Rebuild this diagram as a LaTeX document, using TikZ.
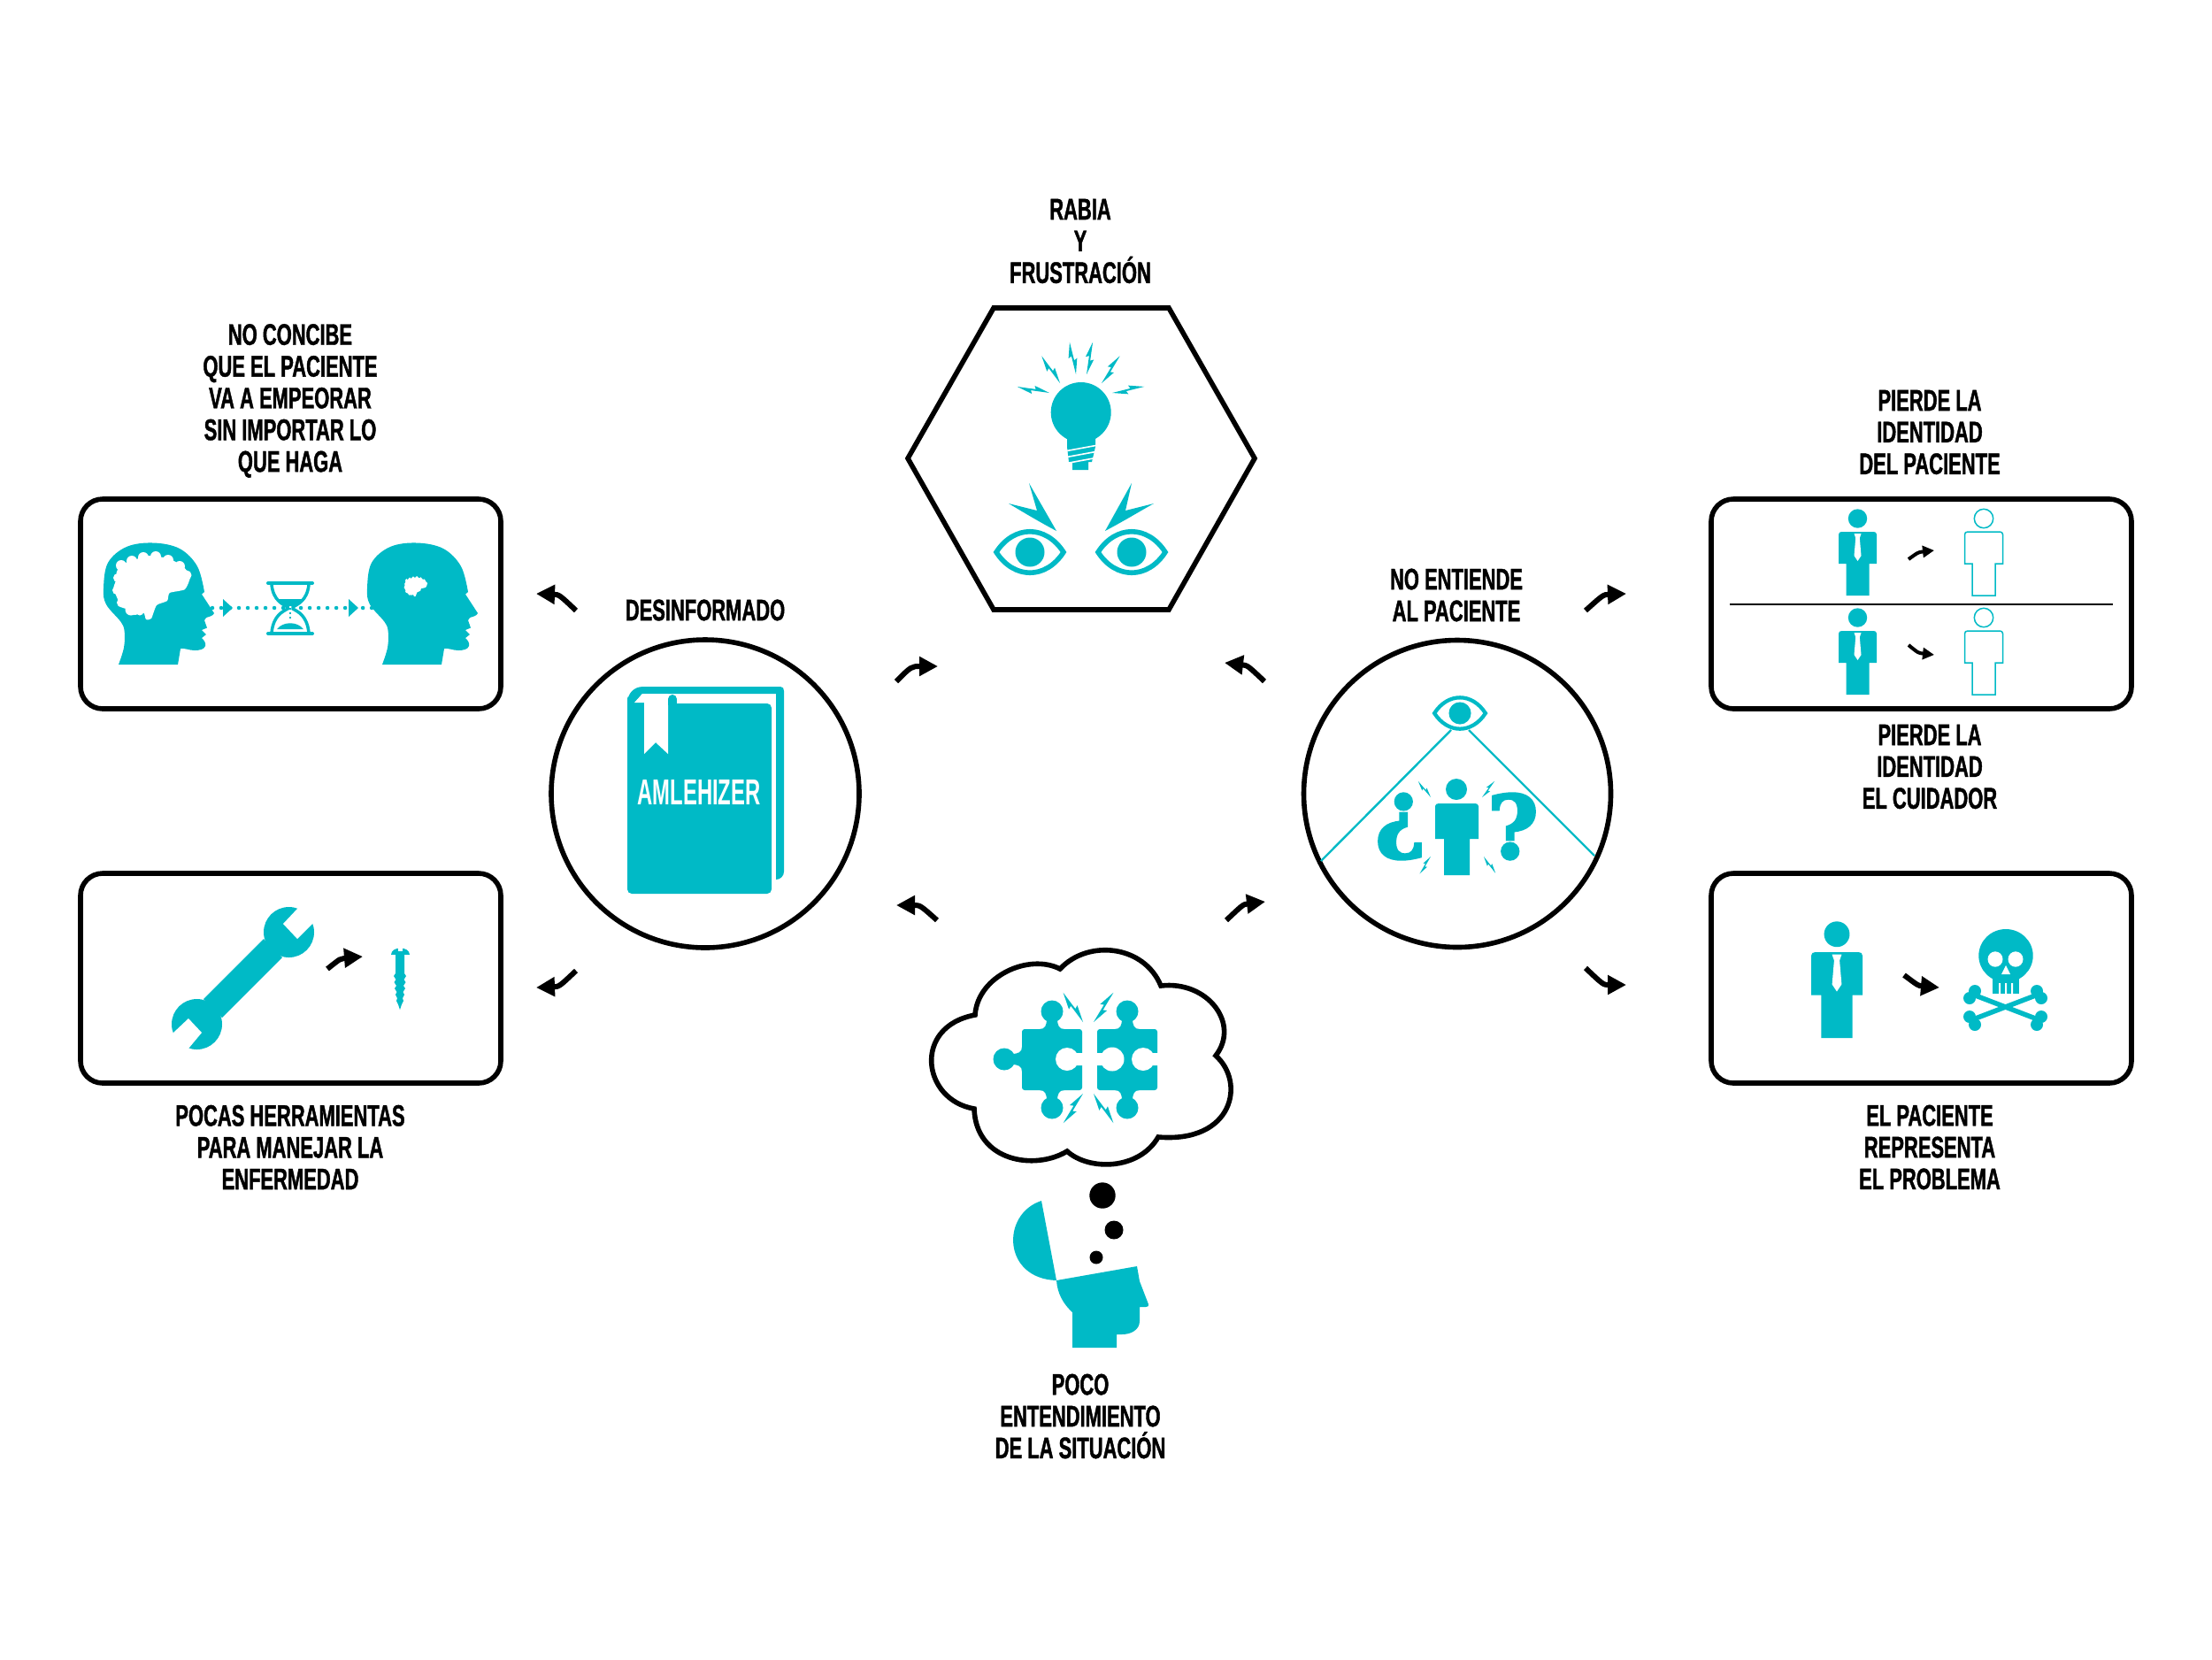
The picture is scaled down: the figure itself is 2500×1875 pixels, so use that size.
\documentclass[tikz,border=0pt]{standalone}
\usepackage{fontspec}
\usetikzlibrary{arrows.meta}
\newfontfamily\labf[FakeStretch=0.65,FakeBold=1.2]{Liberation Sans}
\newfontfamily\bkf[FakeStretch=0.585]{Liberation Sans}
\newfontfamily\qmf[FakeBold=3]{DejaVu Serif}
\definecolor{ic}{HTML}{00BAC6}
\tikzset{
  x=0.01cm,y=-0.01cm,
  labeltxt/.style={font=\labf\bfseries\fontsize{9.6}{10.2}\selectfont,align=center,text=black,inner sep=0pt},
  frame/.style={draw=black,line width=0.056cm,fill=white},
  boxframe/.style={frame,rounded corners=0.25cm},
  turnarrow/.style={black,line width=0.06cm,-{Triangle[length=0.21cm,width=0.21cm]}},
  turnsmall/.style={black,line width=0.04cm,-{Triangle[length=0.13cm,width=0.13cm]}},
  qmark/.style={font=\qmf\bfseries\fontsize{28}{30}\selectfont,text=ic,inner sep=0pt}
}
\newcommand\lbolt[3]{\fill[ic,shift={(#1)},rotate=#2,scale=#3] (0,0) -- (0.48,0.13) -- (0.43,0.03) -- (1,0) -- (0.52,-0.13) -- (0.57,-0.03) -- cycle;}
\newcommand\eyeico[3]{\begin{scope}[shift={(#1,#2)},scale=#3]
  \draw[ic,line width=#3*0.056cm] (-38,0) .. controls (-18,-31) and (18,-31) .. (38,0) .. controls (18,31) and (-18,31) .. (-38,0) -- cycle;
  \fill[ic] (0,0) circle (16.5);
\end{scope}}
\newcommand\personbody{(0,-15) circle (10.7) (-21.5,36) -- (-21.5,3) .. controls (-21.5,1) and (-20,0) .. (-18,0) -- (18,0) .. controls (20,0) and (21.5,1) .. (21.5,3) -- (21.5,36) -- (13,36) -- (13,72) -- (-13,72) -- (-13,36) -- cycle}
\newcommand\personfull[3]{\begin{scope}[shift={(#1,#2)},scale=#3]
  \fill[ic] \personbody;
  \fill[white] (-4,2) -- (4,2) -- (2.3,7) -- (4,27) -- (0,33) -- (-4,27) -- (-2.3,7) -- cycle;
\end{scope}}
\newcommand\personline[3]{\begin{scope}[shift={(#1,#2)},scale=#3]
  \draw[ic,line width=0.015cm] \personbody;
\end{scope}}
\newcommand\headshape{(0,0) -- plot[smooth,tension=.6] coordinates {(0,0) (6,-19) (6.7,-37) (2.7,-48) (-14,-68) (-17,-86) (-12,-115) (9,-133) (39,-137.5) (69,-131) (89,-111) (97,-82)} -- (94,-79.5) -- (108,-58) .. controls (107,-55) and (102,-54) .. (99,-53) -- (97,-50) -- (100,-41.5) -- (94,-39) -- (99,-34) -- (94,-30) .. controls (97,-27) and (99,-24) .. (98,-21) .. controls (97,-17) and (91,-16) .. (86,-16) .. controls (80,-16) and (74,-19) .. (70,-18) -- (67,0) -- cycle}
\newcommand\brainshape{plot[smooth cycle,tension=.35] coordinates {(-2.3,-104) (2.7,-113) (17.7,-118) (32.7,-123) (56,-120) (72.7,-111) (81,-99.5) (75,-85) (57.7,-81) (55,-72) (43,-67) (37,-52) (31,-51) (28.3,-58.5) (17.7,-56) (11,-62) (0,-66) (-0.7,-73) (-5.7,-86) (-2.3,-97)}
 (3,-112) circle (6) (15,-117) circle (6) (28,-121) circle (6) (42,-122) circle (6) (56,-118) circle (6) (69,-111) circle (6) (77,-101) circle (5.5) (-1,-98) circle (5) (-2,-84) circle (5) (3,-70) circle (5) (14,-62) circle (6.5) (24,-60) circle (4.5)}
\newcommand\pknob[2]{\begin{scope}[shift={(#1)},rotate=#2]
  \fill[ic] (0,-20) circle (12.5);
  \fill[ic] (-6,-12) .. controls (-6,-4) and (-8,0) .. (-14,0) -- (14,0) .. controls (8,0) and (6,-4) .. (6,-12) -- cycle;
\end{scope}}
\begin{document}
\begin{tikzpicture}
\useasboundingbox (0,0) rectangle (2500,1875);
\fill[white] (0,0) rectangle (2500,1875);
% frames
\draw[boxframe] (91,564) rectangle (566,801);
\draw[boxframe] (91,987) rectangle (566,1224);
\draw[boxframe] (1934,564) rectangle (2409,801);
\draw[boxframe] (1934,987) rectangle (2409,1224);
\draw[frame] (797,897) circle (174);
\draw[frame] (1647,897) circle (173.5);
\draw[frame,line join=miter] (1123,348) -- (1321,348) -- (1418,518) -- (1321,689) -- (1123,689) -- (1026,518) -- cycle;
\draw[frame,line join=miter] (1102,1147) .. controls (1105,1103) and (1163,1077) .. (1198,1095) .. controls (1230,1061) and (1293,1068) .. (1312,1114) .. controls (1365,1108) and (1402,1157) .. (1374,1193) .. controls (1408,1223) and (1394,1292) .. (1309,1285) .. controls (1287,1323) and (1230,1323) .. (1206,1301) .. controls (1170,1323) and (1103,1313) .. (1101,1253) .. controls (1042,1243) and (1031,1160) .. (1102,1147) -- cycle;
% labels
\node[labeltxt] (t1) at (328,453) {NO CONCIBE\\QUE EL PACIENTE\\VA A EMPEORAR\\SIN IMPORTAR LO\\QUE HAGA};
\node[labeltxt] (t2) at (328,1296.5) {POCAS HERRAMIENTAS\\PARA MANEJAR LA\\ENFERMEDAD};
\node[labeltxt] (t3) at (797,689.5) {DESINFORMADO};
\node[labeltxt] (t4) at (1221,272.5) {RABIA\\Y\\FRUSTRACIÓN};
\node[labeltxt] (t5) at (1646,672.5) {NO ENTIENDE\\AL PACIENTE};
\node[labeltxt] (t6) at (2181,488.5) {PIERDE LA\\IDENTIDAD\\DEL PACIENTE};
\node[labeltxt] (t7) at (2181,866.5) {PIERDE LA\\IDENTIDAD\\EL CUIDADOR};
\node[labeltxt] (t8) at (2181,1296.5) {EL PACIENTE\\REPRESENTA\\EL PROBLEMA};
\node[labeltxt] (t9) at (1221,1600.5) {POCO\\ENTENDIMIENTO\\DE LA SITUACIÓN};
% turning arrows
\coordinate (a1s) at (651,690); \coordinate (a1c) at (632,672); \coordinate (a1e) at (606,671);
\coordinate (a2s) at (651,1097); \coordinate (a2c) at (632,1115); \coordinate (a2e) at (606,1116);
\coordinate (a3s) at (1013,770); \coordinate (a3c) at (1030,753); \coordinate (a3e) at (1060,753);
\coordinate (a4s) at (1059,1040); \coordinate (a4c) at (1040,1023); \coordinate (a4e) at (1013,1023);
\coordinate (a5s) at (1429,770); \coordinate (a5c) at (1410,752); \coordinate (a5e) at (1384,749);
\coordinate (a6s) at (1386,1040); \coordinate (a6c) at (1405,1022); \coordinate (a6e) at (1430,1019);
\coordinate (a7s) at (1792,690); \coordinate (a7c) at (1812,672); \coordinate (a7e) at (1838,671);
\coordinate (a8s) at (1792,1094); \coordinate (a8c) at (1812,1113); \coordinate (a8e) at (1838,1113);
\coordinate (a9s) at (370,1095); \coordinate (a9c) at (385,1083); \coordinate (a9e) at (410,1081);
\coordinate (a10s) at (2152,1102); \coordinate (a10c) at (2168,1114); \coordinate (a10e) at (2192,1116);
\coordinate (a11s) at (2157,632); \coordinate (a11c) at (2168,624); \coordinate (a11e) at (2186,622);
\coordinate (a12s) at (2157,729); \coordinate (a12c) at (2168,738); \coordinate (a12e) at (2186,740);
\foreach \n in {1,...,10} {\draw[turnarrow] (a\n s) .. controls (a\n c) .. (a\n e);}
\foreach \n in {11,12} {\draw[turnsmall] (a\n s) .. controls (a\n c) .. (a\n e);}
% heads
\begin{scope}[shift={(134,751)}]
  \fill[ic] \headshape; \fill[white] \brainshape;
\end{scope}
\begin{scope}[shift={(432,751)}]
  \fill[ic] \headshape;
  \begin{scope}[shift={(38,-88)},scale=0.3,shift={(-38,88)}] \fill[white] \brainshape; \end{scope}
\end{scope}
% dotted connector and hourglass
\coordinate (d1) at (240,687); \coordinate (d2) at (423,687); \coordinate (hg) at (328,687);
\draw[ic,line width=0.045cm,line cap=round,dash pattern=on 0pt off 0.1cm] (d1) -- (d2);
\fill[ic] (252,677) -- (263,687) -- (252,697) -- cycle;
\fill[ic] (394,677) -- (405,687) -- (394,697) -- cycle;
\begin{scope}[shift={(hg)}]
  \fill[white] (-19,-24) .. controls (-17,-8) and (-8,-4) .. (-3,0) .. controls (-8,4) and (-17,8) .. (-19,24) -- (19,24) .. controls (17,8) and (8,4) .. (3,0) .. controls (8,-4) and (17,-8) .. (19,-24) -- cycle;
  \draw[ic,line width=0.04cm,line cap=round] (-25,-28) -- (25,-28) (-25,29) -- (25,29);
  \draw[ic,line width=0.035cm] (-21,-26) .. controls (-19,-8) and (-8,-4) .. (-3,-1) -- (-3,1) .. controls (-8,4) and (-19,8) .. (-21,28);
  \draw[ic,line width=0.035cm] (21,-26) .. controls (19,-8) and (8,-4) .. (3,-1) -- (3,1) .. controls (8,4) and (19,8) .. (21,28);
  \fill[ic] (-15,-10) -- (15,-10) .. controls (10,-3) and (4,-2) .. (0,-2) .. controls (-4,-2) and (-10,-3) .. (-15,-10) -- cycle;
  \fill[ic] (-15,24) .. controls (-8,15) and (8,15) .. (15,24) -- cycle;
  \draw[ic,line width=0.02cm,dash pattern=on 0.02cm off 0.03cm] (0,0) -- (0,14);
\end{scope}
% wrench and screw
\fill[ic] (222.5,1157.5) circle (28.5);
\fill[ic] (326.5,1053.5) circle (28.5);
\fill[ic] (298,1061) -- (319,1082) -- (251,1150) -- (230,1129) -- cycle;
\fill[white] (320,1044) -- (336,1027) -- (356,1007) -- (373,1024) -- (353,1044) -- (336,1061) -- cycle;
\fill[white] (213,1151) -- (228,1167) -- (213,1185) -- (193,1205) -- (176,1187) -- (196,1167) -- cycle;
\fill[ic] (442,1079) .. controls (442,1069) and (463,1069) .. (463,1079) -- cycle;
\fill[white] (450,1068) rectangle (455,1075);
\fill[ic] (447,1079) -- (457,1079) -- (457,1100) -- (459,1103) -- (456.5,1107) -- (458.5,1110) -- (456,1114) -- (458,1117) -- (455.5,1121) -- (457,1124) -- (455,1128) -- (456,1131) -- (454,1135) -- (452,1141) -- (450,1135) -- (448,1131) -- (449,1128) -- (447,1124) -- (448.5,1121) -- (446,1117) -- (448,1114) -- (445.5,1110) -- (447.5,1107) -- (445,1103) -- (447,1100) -- cycle;
% book
\fill[ic] (709,795) .. controls (709,784) and (716,776) .. (727,776) -- (882,776) .. controls (885,776) and (886,778) .. (886,781) -- (886,985) .. controls (886,990) and (882,994) .. (877,994) -- (877,784) -- (726,784) -- (717,794) -- cycle;
\fill[ic,rounded corners=0.05cm] (709,792) -- (709,1010) -- (872,1010) -- (872,795) -- (760,795) -- (709,792) -- cycle;
\fill[white] (717,794) -- (726,784) -- (755,784) -- (755,852) -- (741,839) -- (728,852) -- (728,794) -- cycle;
\fill[ic] (760,790) circle (5); \fill[ic] (755,790) rectangle (765,797);
\node[font=\bkf\bfseries\fontsize{11.6}{12}\selectfont,text=white,inner sep=0pt] (bk) at (790,895) {AMLEHIZER};
% bulb and eyes
\fill[ic] (1221.7,466) circle (34);
\fill[ic] (1200,485) -- (1243,485) -- (1238,496) -- (1238,505) -- (1234,522) -- (1230,522) -- (1230,531) -- (1212,531) -- (1212,522) -- (1208,522) -- (1206,505) -- (1206,496) -- cycle;
\draw[white,line width=0.016cm] (1203,510) -- (1241,503) (1203,517) -- (1241,510) (1203,524) -- (1241,517);
\lbolt{1186,444}{169}{37} \lbolt{1198,433}{124}{37} \lbolt{1216,423}{101}{37}
\lbolt{1228,423}{79}{37} \lbolt{1245,433}{56}{37} \lbolt{1257,444}{11}{37}
\eyeico{1164}{624}{1} \eyeico{1279}{624}{1}
\fill[ic] (1163,546) -- (1194,600) .. controls (1175,590) and (1155,578) .. (1140,569) -- (1172,577) -- cycle;
\fill[ic] (1279,546) -- (1249,600) .. controls (1268,590) and (1288,578) .. (1304,569) -- (1272,577) -- cycle;
% puzzle
\fill[ic,rounded corners=0.03cm] (1155,1163) rectangle (1223,1232);
\fill[ic,rounded corners=0.03cm] (1240,1163) rectangle (1308,1232);
\pknob{1189,1163}{0} \pknob{1189,1232}{180} \pknob{1155,1197}{90} \pknob{1274,1163}{0} \pknob{1274,1232}{180}
\fill[white] (1206,1197) circle (13) (1257,1197) circle (13.5) (1292,1197) circle (13);
\fill[white] (1210,1190) rectangle (1225,1204) (1238,1190) rectangle (1252,1204) (1296,1190) rectangle (1310,1204);
\lbolt{1224,1155}{124}{40} \lbolt{1236,1155}{56}{40} \lbolt{1224,1236}{-124}{40} \lbolt{1236,1236}{-56}{40}
% thought bubbles and open head
\fill[black] (1246,1351) circle (14.7) (1259,1390) circle (10.5) (1239,1421) circle (7.5);
\fill[ic] (1177,1357) .. controls (1131,1372) and (1133,1445) .. (1194,1447) -- cycle;
\fill[ic] (1194,1447) -- (1285,1431) -- (1288,1448) -- (1298,1474) .. controls (1299,1476) and (1297,1477) .. (1295,1477) -- (1288,1477) -- (1288,1493) .. controls (1288,1503) and (1278,1508) .. (1268,1508) -- (1262,1508) -- (1262,1523) -- (1212,1523) -- (1212,1483) .. controls (1202,1474) and (1195,1462) .. (1194,1447) -- cycle;
% right circle
\eyeico{1650}{806}{0.76}
\draw[ic,line width=0.024cm] (1640,825) -- (1493,973) (1660,825) -- (1802,967);
\fill[ic] (1646,892) circle (12);
\fill[ic] (1622,948) -- (1622,911) .. controls (1622,909) and (1624,908) .. (1626,908) -- (1667,908) .. controls (1669,908) and (1671,909) .. (1671,911) -- (1671,948) -- (1661,948) -- (1661,989) -- (1632,989) -- (1632,948) -- cycle;
\lbolt{1617,901}{128}{23} \lbolt{1675,901}{52}{23} \lbolt{1617,968}{-123}{23} \lbolt{1677,968}{-55}{23}
\node[qmark] (qo) at (1583,934) {¿};
\node[qmark] (qc) at (1710,934) {?};
% persons
\personfull{2099.5}{601}{1} \personline{2242}{601}{1}
\personfull{2099.5}{713}{1} \personline{2242}{713}{1}
\draw[black,line width=0.012cm] (1955,683) -- (2388,683);
\personfull{2076}{1076}{1.35}
% skull
\draw[ic,line width=0.055cm] (2230,1124) -- (2303,1152) (2303,1124) -- (2230,1152);
\fill[ic] (2232,1120) circle (7) (2226,1128) circle (7) (2226,1149) circle (7) (2232,1158) circle (7) (2302,1120) circle (7) (2307,1128) circle (7) (2307,1149) circle (7) (2302,1158) circle (7);
\fill[ic] (2267,1080) ellipse (30.7 and 30);
\fill[ic] (2252,1100) rectangle (2282,1123);
\fill[white] (2255,1084) ellipse (8.5 and 8.7) (2278,1084) ellipse (8.5 and 8.7);
\fill[white] (2267,1091) -- (2272,1101) -- (2262,1101) -- cycle;
\fill[white] (2259,1111) rectangle (2261,1123) (2266,1111) rectangle (2268,1123) (2273,1111) rectangle (2275,1123);
\end{tikzpicture}
\end{document}
